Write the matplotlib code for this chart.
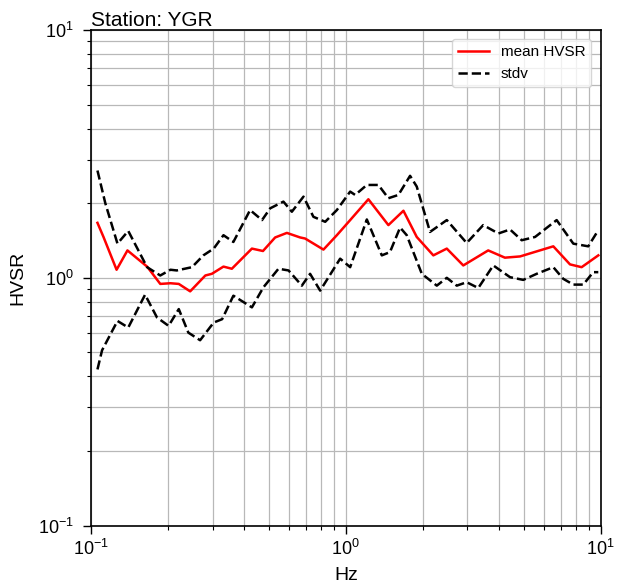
import matplotlib
matplotlib.use("Agg")
import matplotlib.pyplot as plt

plt.rcParams['font.family'] = ['Liberation Sans', 'DejaVu Sans']

# mean HVSR curve
freq_mean = [0.106, 0.112, 0.126, 0.139, 0.166, 0.187, 0.205, 0.221, 0.245, 0.281,
             0.298, 0.331, 0.357, 0.428, 0.473, 0.528, 0.587, 0.662, 0.692, 0.817,
             0.922, 1.04, 1.226, 1.469, 1.683, 1.898, 2.205, 2.49, 2.89, 3.62,
             4.21, 4.83, 6.52, 7.58, 8.42, 9.79]
hvsr_mean = [1.667, 1.46, 1.078, 1.29, 1.11, 0.945, 0.951, 0.945, 0.882, 1.022,
             1.038, 1.11, 1.088, 1.312, 1.283, 1.455, 1.518, 1.455, 1.441, 1.30,
             1.486, 1.71, 2.075, 1.632, 1.865, 1.462, 1.232, 1.312, 1.122, 1.29,
             1.206, 1.22, 1.34, 1.133, 1.104, 1.232]

# upper stdv curve
freq_up = [0.106, 0.1138, 0.127, 0.140, 0.166, 0.187, 0.205, 0.217, 0.249, 0.276,
           0.303, 0.331, 0.362, 0.421, 0.469, 0.505, 0.569, 0.614, 0.682, 0.746,
           0.830, 0.922, 1.04, 1.088, 1.209, 1.342, 1.469, 1.608, 1.787, 1.898,
           2.14, 2.49, 2.98, 3.46, 3.97, 4.41, 4.90, 5.53, 6.72, 7.81, 8.94, 9.79]
hvsr_up = [2.71, 2.0, 1.374, 1.546, 1.104, 1.022, 1.078, 1.071, 1.104, 1.232,
           1.312, 1.486, 1.395, 1.877, 1.71, 1.908, 2.03, 1.848, 2.126, 1.763,
           1.683, 1.877, 2.228, 2.16, 2.37, 2.37, 2.095, 2.16, 2.58, 2.335,
           1.532, 1.71, 1.382, 1.632, 1.51, 1.567, 1.418, 1.462, 1.71, 1.374, 1.34, 1.557]

# lower stdv curve
freq_lo = [0.106, 0.1105, 0.127, 0.140, 0.163, 0.1815, 0.2016, 0.221, 0.241, 0.268,
           0.303, 0.327, 0.362, 0.428, 0.475, 0.544, 0.596, 0.672, 0.724, 0.793,
           0.950, 1.04, 1.209, 1.384, 1.49, 1.633, 1.734, 1.987, 2.275, 2.49,
           2.725, 2.98, 3.31, 3.79, 4.41, 4.97, 5.61, 6.52, 7.13, 7.81, 8.55, 9.35, 9.79]
hvsr_lo = [0.427, 0.51, 0.67, 0.63, 0.855, 0.692, 0.64, 0.748, 0.601, 0.56,
           0.66, 0.681, 0.847, 0.76, 0.916, 1.088, 1.071, 0.93, 1.038, 0.888,
           1.195, 1.104, 1.72, 1.232, 1.27, 1.596, 1.486, 1.038, 0.93, 1.0,
           0.93, 0.96, 0.91, 1.122, 1.006, 0.981, 1.038, 1.104, 0.991, 0.939, 0.939, 1.054, 1.054]

fig = plt.figure(figsize=(6.17, 5.88), dpi=100)
ax = fig.add_axes([0.1475, 0.106, 0.826, 0.843])

ax.plot(freq_mean, hvsr_mean, color='red', lw=1.8, label='mean HVSR')
ax.plot(freq_up, hvsr_up, color='black', lw=1.8, ls='--', label='stdv')
ax.plot(freq_lo, hvsr_lo, color='black', lw=1.8, ls='--')

ax.set_xscale('log')
ax.set_yscale('log')
ax.set_xlim(0.1, 10)
ax.set_ylim(0.1, 10)
ax.grid(True, which='both', color='#b8b8b8', lw=0.9)
ax.tick_params(which='major', labelsize=13, length=5.5, width=1.0)
ax.tick_params(which='minor', length=3, width=0.8)
ax.tick_params(axis='y', which='major', pad=7)
ax.tick_params(axis='x', which='major', pad=4)
for s in ax.spines.values():
    s.set_linewidth(1.2)
ax.set_xlabel('Hz', fontsize=14, labelpad=6)
ax.set_ylabel('HVSR', fontsize=14, labelpad=8)
ax.set_title('Station: YGR', loc='left', fontsize=15, pad=2)
ax.legend(loc='upper right', fontsize=11, fancybox=True, borderaxespad=0.6)

fig.savefig('out.png', dpi=100)
